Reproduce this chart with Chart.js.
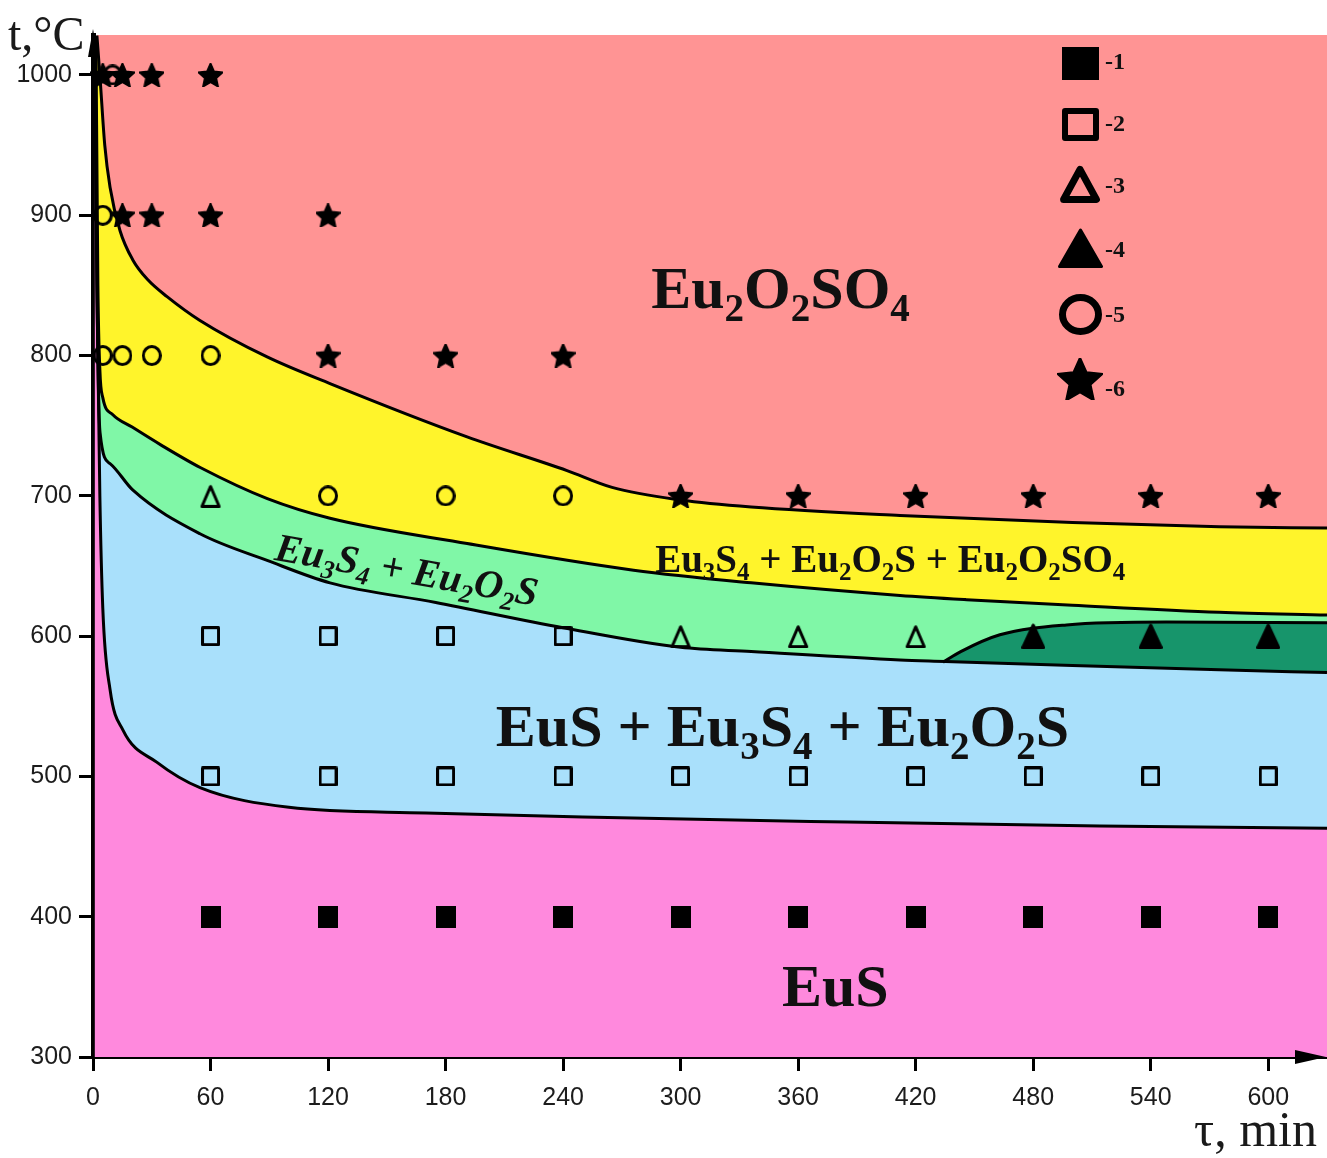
<!DOCTYPE html>
<html lang="en">
<head>
<meta charset="utf-8">
<title>Eu phase diagram</title>
<script src="https://cdn.jsdelivr.net/npm/chart.js@4.4.1/dist/chart.umd.min.js"></script>
<style>
  html, body { margin: 0; padding: 0; background: #fff; }
  .chart-box { position: relative; width: 1327px; height: 1158px; }
</style>
</head>
<body>
<div class="chart-box"><canvas id="phaseChart"></canvas></div>
<script>
// axis ticks
const timeTicks = [0, 60, 120, 180, 240, 300, 360, 420, 480, 540, 600];
const tempTicks = [300, 400, 500, 600, 700, 800, 900, 1000];

// phase boundaries (time, min / temperature, °C)
const boundAx = [2, 3.6, 6, 8.7, 13.8, 20.4, 28, 37.8, 54.6, 88.9, 121, 191, 242, 265, 300, 336, 412, 500, 575, 630];
const boundAy = [1028, 998, 950, 920, 889, 868, 854, 842, 825, 799, 780, 742, 718, 706, 697, 692, 686, 681, 678, 677];

const boundBx = [1.5, 2.5, 3.5, 5, 10, 20, 35, 55, 89, 121, 191, 276, 336, 412, 446, 500, 575, 630];
const boundBy = [1028, 850, 790, 770, 758, 749, 736, 720, 698, 684, 666, 647, 638, 629, 626, 622, 617, 615];

const boundCx = [1, 2, 3.6, 8.7, 20.4, 54.6, 88.9, 121, 175, 240, 300, 336, 412, 435, 500, 575, 630];
const boundCy = [1028, 850, 745, 723, 704, 673, 654, 638, 624, 606, 592, 589, 583, 582, 579, 576, 574];

const boundDx = [0.8, 2, 3.5, 5, 8.7, 15.3, 32.7, 54.6, 100, 170, 250, 385, 514, 630];
const boundDy = [1028, 850, 700, 620, 562, 533, 510, 492, 478, 474, 471, 467.5, 464.7, 463];

// upper edge of the dark green pocket
const boundEx = [434, 443, 463, 497, 548, 630];
const boundEy = [581.5, 589, 601, 608, 610, 609.5];

// experimental points, series 1..6
const filledSquares = [[60, 400], [120, 400], [180, 400], [240, 400], [300, 400], [360, 400], [420, 400], [480, 400], [540, 400], [600, 400]];
const openSquares = [[60, 500], [120, 500], [180, 500], [240, 500], [300, 500], [360, 500], [420, 500], [480, 500], [540, 500], [600, 500],
                     [60, 600], [120, 600], [180, 600], [240, 600]];
const openTriangles = [[60, 700], [300, 600], [360, 600], [420, 600]];
const filledTriangles = [[480, 600], [540, 600], [600, 600]];
const openCircles = [[10, 1000], [5, 900], [5, 800], [15, 800], [30, 800], [60, 800], [120, 700], [180, 700], [240, 700]];
const stars = [[5, 1000], [15, 1000], [30, 1000], [60, 1000], [15, 900], [30, 900], [60, 900], [120, 900],
               [120, 800], [180, 800], [240, 800], [300, 700], [360, 700], [420, 700], [480, 700], [540, 700], [600, 700]];

const legendLabels = ['-1', '-2', '-3', '-4', '-5', '-6'];

// phase labels: text ("_" marks a subscript), position in data units
const regionLabels = [
    { text: 'Eu_2O_2SO_4', x: 351, y: 834, size: 60, style: 'bold', angle: 0 },
    { text: 'Eu_3S_4 + Eu_2O_2S + Eu_2O_2SO_4', x: 407, y: 646, size: 39, style: 'bold', angle: 0 },
    { text: 'Eu_3S_4 + Eu_2O_2S', x: 159, y: 638, size: 40, style: 'italic bold', angle: 10 },
    { text: 'EuS + Eu_3S_4 + Eu_2O_2S', x: 352, y: 522, size: 60, style: 'bold', angle: 0 },
    { text: 'EuS', x: 379, y: 336, size: 60, style: 'bold', angle: 0 }
];

const SERIF = '"Liberation Serif", "Times New Roman", serif';
const SANS = '"Liberation Sans", Arial, sans-serif';

function toPoints(xs, ys) {
    return xs.map((x, i) => ({ x: x, y: ys[i] }));
}
function pairs(list) {
    return list.map(p => ({ x: p[0], y: p[1] }));
}

// marker glyphs drawn on small canvases, used as point styles
function makeMarker(kind, w, h, lw) {
    const c = document.createElement('canvas');
    c.width = w; c.height = h;
    const g = c.getContext('2d');
    g.fillStyle = '#000';
    g.strokeStyle = '#000';
    g.lineWidth = lw;
    g.lineJoin = 'round';
    const m = lw / 2;
    g.beginPath();
    if (kind === 'fsq') {
        g.rect(0, 0, w, h);
        g.fill();
    } else if (kind === 'osq') {
        g.rect(m, m, w - lw, h - lw);
        g.stroke();
    } else if (kind === 'otri') {
        g.moveTo(w / 2, lw * 0.9);
        g.lineTo(w - lw * 0.8, h - m);
        g.lineTo(lw * 0.8, h - m);
        g.closePath();
        g.stroke();
    } else if (kind === 'ftri') {
        g.lineWidth = 3;
        g.moveTo(w / 2, 2);
        g.lineTo(w - 1.5, h - 1.5);
        g.lineTo(1.5, h - 1.5);
        g.closePath();
        g.fill();
        g.stroke();
    } else if (kind === 'ocir') {
        g.ellipse(w / 2, h / 2, w / 2 - m, h / 2 - m, 0, 0, Math.PI * 2);
        g.stroke();
    } else if (kind === 'star') {
        const R = w / 1.902, r = R * 0.47;
        const cy = h / 2 + 0.095 * R;
        for (let i = 0; i < 10; i++) {
            const a = -Math.PI / 2 + i * Math.PI / 5;
            const rr = i % 2 ? r : R;
            g.lineTo(w / 2 + rr * Math.cos(a), cy + rr * Math.sin(a));
        }
        g.closePath();
        g.lineWidth = 1.5;
        g.fill();
        g.stroke();
    }
    return c;
}

const pointGlyphs = [
    makeMarker('fsq', 20, 22, 0),
    makeMarker('osq', 19, 20, 3),
    makeMarker('otri', 22, 24, 3),
    makeMarker('ftri', 24, 26, 0),
    makeMarker('ocir', 20, 21, 3),
    makeMarker('star', 25, 24, 0)
];
const legendGlyphs = [
    makeMarker('fsq', 37, 33, 0),
    makeMarker('osq', 37, 33, 6),
    makeMarker('otri', 44, 40, 7),
    makeMarker('ftri', 45, 40, 0),
    makeMarker('ocir', 43, 41, 7),
    makeMarker('star', 46, 42, 0)
];

function drawFormula(ctx, text, cx, cy, size, style, angle) {
    const parts = [];
    for (let i = 0; i < text.length; i++) {
        if (text[i] === '_') {
            parts.push({ t: text[i + 1], sub: true });
            i++;
        } else if (parts.length && !parts[parts.length - 1].sub) {
            parts[parts.length - 1].t += text[i];
        } else {
            parts.push({ t: text[i], sub: false });
        }
    }
    const mainFont = `${style} ${size}px ${SERIF}`;
    const subFont = `${style} ${Math.round(size * 0.65)}px ${SERIF}`;
    let total = 0;
    parts.forEach(p => {
        ctx.font = p.sub ? subFont : mainFont;
        p.w = ctx.measureText(p.t).width;
        total += p.w;
    });
    ctx.save();
    ctx.translate(cx, cy);
    ctx.rotate(angle * Math.PI / 180);
    ctx.fillStyle = '#111';
    ctx.textBaseline = 'alphabetic';
    ctx.textAlign = 'left';
    let pos = -total / 2;
    parts.forEach(p => {
        ctx.font = p.sub ? subFont : mainFont;
        ctx.fillText(p.t, pos, p.sub ? size * 0.22 : 0);
        pos += p.w;
    });
    ctx.restore();
}

const overlayPlugin = {
    id: 'overlay',
    afterDatasetsDraw(chart) {
        const { ctx, scales: { x, y } } = chart;
        regionLabels.forEach(lbl => {
            drawFormula(ctx, lbl.text, x.getPixelForValue(lbl.x), y.getPixelForValue(lbl.y), lbl.size, lbl.style, lbl.angle);
        });
    },
    afterDraw(chart) {
        const { ctx, chartArea: area } = chart;
        ctx.save();
        ctx.fillStyle = '#000';
        // arrow heads
        ctx.beginPath();
        ctx.moveTo(area.right - 1, area.bottom);
        ctx.lineTo(area.right - 32, area.bottom - 7);
        ctx.lineTo(area.right - 32, area.bottom + 7);
        ctx.closePath();
        ctx.fill();
        ctx.beginPath();
        ctx.moveTo(area.left, area.top - 6);
        ctx.lineTo(area.left - 5, area.top + 22);
        ctx.lineTo(area.left + 5, area.top + 22);
        ctx.closePath();
        ctx.fill();

        // axis titles
        ctx.fillStyle = '#1a1a1a';
        ctx.textBaseline = 'alphabetic';
        ctx.font = `48px ${SERIF}`;
        ctx.textAlign = 'left';
        ctx.fillText('t,°C', 8, 50);
        ctx.font = `50px ${SERIF}`;
        ctx.textAlign = 'right';
        ctx.fillText('τ, min', area.right - 10, 1146);

        // legend
        const lx = area.right - 247;
        const rowY = [63, 124, 183, 248, 314, 379];
        const baseY = [69, 131, 193, 257, 322, 396];
        ctx.font = `bold 24px ${SERIF}`;
        ctx.textAlign = 'left';
        ctx.fillStyle = '#111';
        legendGlyphs.forEach((g, i) => {
            ctx.drawImage(g, Math.round(lx - g.width / 2), Math.round(rowY[i] - g.height / 2));
            ctx.fillText(legendLabels[i], lx + 25, baseY[i]);
        });
        ctx.restore();
    }
};

function boundary(label, xs, ys, fill, color, width) {
    return {
        label: label,
        data: toPoints(xs, ys),
        borderColor: '#000',
        borderWidth: width,
        backgroundColor: color,
        fill: fill,
        pointRadius: 0,
        pointHoverRadius: 0,
        cubicInterpolationMode: 'monotone'
    };
}

function markers(label, list, glyph) {
    return {
        label: label,
        data: pairs(list),
        showLine: false,
        pointStyle: glyph,
        pointRadius: 12,
        pointHoverRadius: 12,
        clip: false
    };
}

const datasets = [
    markers('1', filledSquares, pointGlyphs[0]),
    markers('2', openSquares, pointGlyphs[1]),
    markers('3', openTriangles, pointGlyphs[2]),
    markers('4', filledTriangles, pointGlyphs[3]),
    markers('6', stars, pointGlyphs[5]),
    markers('5', openCircles, pointGlyphs[4]),
    boundary('pocket', boundEx, boundEy, 9, '#17956B', 3),          // 6
    boundary('Eu2O2SO4', boundAx, boundAy, 'end', '#FF9494', 3),   // 7
    boundary('three phases', boundBx, boundBy, 7, '#FFF42B', 3),  // 8
    boundary('Eu3S4+Eu2O2S', boundCx, boundCy, 8, '#80F7A7', 3),  // 9
    boundary('EuS+Eu3S4+Eu2O2S', boundDx, boundDy, 9, '#A9E0FB', 3), // 10
    boundary('EuS', boundDx, boundDy, 'start', '#FF89DD', 0)      // 11
];

const ctx = document.getElementById('phaseChart').getContext('2d');
const phaseChart = new Chart(ctx, {
    type: 'line',
    data: { datasets: datasets },
    options: {
        responsive: true,
        maintainAspectRatio: false,
        animation: false,
        layout: { autoPadding: false, padding: { left: 0, right: 0, top: 35, bottom: 0 } },
        plugins: {
            legend: { display: false },
            tooltip: { enabled: false },
            filler: { drawTime: 'beforeDatasetsDraw' }
        },
        scales: {
            x: {
                type: 'linear',
                min: 0,
                max: 630,
                afterBuildTicks: s => { s.ticks = timeTicks.map(v => ({ value: v })); },
                afterFit: s => { s.height = 101; s.paddingLeft = 0; s.paddingRight = 0; },
                grid: { drawOnChartArea: false, tickLength: 14, tickWidth: 3, tickColor: '#000' },
                border: { color: '#000', width: 4 },
                ticks: { font: { family: SANS, size: 25 }, color: '#1c1c1c', padding: 12, maxRotation: 0, callback: v => String(v) }
            },
            y: {
                type: 'linear',
                min: 300,
                max: 1028.5,
                afterBuildTicks: s => { s.ticks = tempTicks.map(v => ({ value: v })); },
                afterFit: s => { s.width = 93; s.paddingTop = 0; s.paddingBottom = 0; },
                grid: { drawOnChartArea: false, tickLength: 14, tickWidth: 3, tickColor: '#000' },
                border: { color: '#000', width: 5 },
                ticks: { font: { family: SANS, size: 25 }, color: '#1c1c1c', padding: 7, callback: v => String(v) }
            }
        }
    },
    plugins: [overlayPlugin]
});
</script>
</body>
</html>
